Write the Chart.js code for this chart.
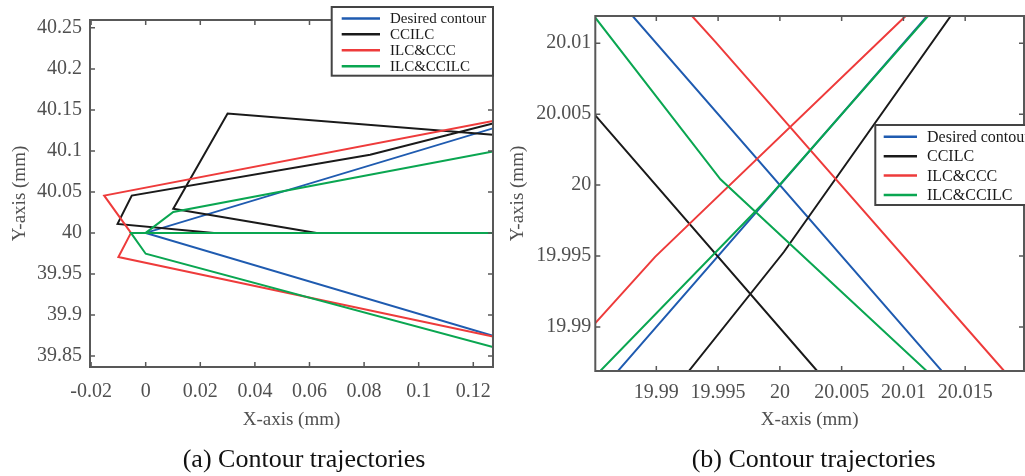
<!DOCTYPE html>
<html>
<head>
<meta charset="utf-8">
<script src="https://cdn.jsdelivr.net/npm/chart.js@4.4.1/dist/chart.umd.min.js"></script>
<style>
  body { margin: 0; background: #fff; }
  canvas { position: absolute; top: 0; }
  #chartA { left: 0; }
  #chartB { left: 505px; }
</style>
</head>
<body>
<canvas id="chartA" width="512" height="476"></canvas>
<canvas id="chartB" width="520" height="476"></canvas>
<script>
/* Data */

const seriesNames = ['Desired contour', 'CCILC', 'ILC&CCC', 'ILC&CCILC']
const seriesColors = ['#1f5bb0', '#1a1a1a', '#ee3b3b', '#0aa651']

// (a) whole corner, [x, y] in mm, null = break in the path
const desiredA = [[0.1272, 40.1275], [0, 40], [0.1272, 39.8746]]
const ccilcA = [[0.1272, 40.1334], [0.0822, 40.0953], [-0.0051, 40.0455], [-0.0103, 40.011], [0.025, 40], [0.1272, 40], null,
                [0.1272, 40.1196], [0.030, 40.1455], [0.0101, 40.0295], [0.0626, 40]]
const ilcCccA = [[0.1272, 40.1365], [-0.0152, 40.0455], [-0.0054, 40], [-0.0100, 39.9706], [0.1272, 39.8738]]
const ilcCcilcA = [[0.1272, 40.0993], [0.0101, 40.0255], [0, 40], [-0.0054, 40], [0, 39.9746], [0.1272, 39.8608], null,
                   [0, 40], [0.1272, 40]]

const xTicksA = [-0.02, 0, 0.02, 0.04, 0.06, 0.08, 0.1, 0.12]
const xLabelsA = ['-0.02', '0', '0.02', '0.04', '0.06', '0.08', '0.1', '0.12']
const yTicksA = [39.85, 39.9, 39.95, 40, 40.05, 40.1, 40.15, 40.2, 40.25]
const yLabelsA = ['39.85', '39.9', '39.95', '40', '40.05', '40.1', '40.15', '40.2', '40.25']

// (b) zoom around the crossing
const desiredB = [[19.9881, 20.0119], [20.0131, 19.9869], null, [19.9869, 19.9869], [20.0119, 20.0119]]
const ccilcB = [[19.98506, 20.00492], [20.00302, 19.98689], null,
                [19.99263, 19.98689], [20.00032, 19.99528], [20.01383, 20.01192]]
const ilcCccB = [[19.99289, 20.01192], [19.99478, 20.0101], [20.01815, 19.98689], null,
                 [19.98506, 19.99026], [19.9899, 19.99494], [20.01018, 20.01192]]
const ilcCcilcB = [[19.98506, 20.0118], [19.99519, 20.00041], [20.01188, 19.98689], null,
                   [19.98546, 19.98689], [19.99889, 19.99893], [20.01199, 20.01192]]

const xTicksB = [19.99, 19.995, 20, 20.005, 20.01, 20.015]
const xLabelsB = ['19.99', '19.995', '20', '20.005', '20.01', '20.015']
const yTicksB = [19.99, 19.995, 20, 20.005, 20.01]
const yLabelsB = ['19.99', '19.995', '20', '20.005', '20.01']

/* Plugins */

const FONT = "'Liberation Serif', 'Times New Roman', serif"

const frame = {
    id: 'frame',
    afterDatasetsDraw(chart) {
        const {ctx, chartArea: a, scales: {x, y}} = chart
        ctx.save()
        ctx.strokeStyle = '#585858'
        ctx.lineWidth = 1.5
        ctx.beginPath()
        x.ticks.forEach((t) => {
            const px = x.getPixelForValue(t.value)
            ctx.moveTo(px, a.bottom); ctx.lineTo(px, a.bottom - 5)
            ctx.moveTo(px, a.top); ctx.lineTo(px, a.top + 5)
        })
        y.ticks.forEach((t) => {
            const py = y.getPixelForValue(t.value)
            ctx.moveTo(a.left, py); ctx.lineTo(a.left + 5, py)
            ctx.moveTo(a.right, py); ctx.lineTo(a.right - 5, py)
        })
        ctx.stroke()
        ctx.lineWidth = 2
        ctx.strokeRect(a.left, a.top, a.width, a.height)
        ctx.restore()
    }
}

const boxLegend = {
    id: 'boxLegend',
    afterDraw(chart, args, o) {
        const {ctx} = chart
        ctx.save()
        ctx.fillStyle = '#fff'
        ctx.fillRect(o.left, o.top, o.right - o.left, o.bottom - o.top)
        ctx.strokeStyle = '#444'
        ctx.lineWidth = 2
        ctx.strokeRect(o.left, o.top, o.right - o.left, o.bottom - o.top)
        ctx.font = o.size + 'px ' + FONT
        ctx.textBaseline = 'middle'
        ctx.fillStyle = '#1a1a1a'
        chart.data.datasets.forEach((ds, i) => {
            const yy = o.rows[i]
            ctx.strokeStyle = ds.borderColor
            ctx.lineWidth = 2.5
            ctx.beginPath()
            ctx.moveTo(o.x0, yy); ctx.lineTo(o.x1, yy)
            ctx.stroke()
            ctx.fillText(ds.label, o.tx, yy + 1)
        })
        ctx.restore()
    }
}

const caption = {
    id: 'caption',
    afterDraw(chart, args, o) {
        const {ctx} = chart
        ctx.save()
        ctx.font = '26px ' + FONT
        ctx.fillStyle = '#111'
        ctx.textAlign = 'center'
        ctx.textBaseline = 'middle'
        ctx.fillText(o.text, o.x, o.y)
        ctx.restore()
    }
}

/* Charts */

const toPoints = (arr) => arr.map((p) => p ? {x: p[0], y: p[1]} : {x: null, y: null})

function axis(min, max, ticks, labels, opts) {
    return {
        type: 'linear',
        min, max,
        afterBuildTicks: (s) => { s.ticks = ticks.map((v) => ({value: v})) },
        afterFit: opts.fit,
        grid: {display: false, drawTicks: false},
        border: {display: false},
        ticks: {
            autoSkip: false, maxRotation: 0, padding: opts.pad,
            color: '#505050', font: {family: FONT, size: 20},
            callback: (v, i) => labels[i]
        },
        title: {
            display: true, text: opts.title, color: '#505050',
            font: {family: FONT, size: 19, lineHeight: 1},
            padding: opts.titlePad
        }
    }
}

function makeChart(id, c) {
    return new Chart(document.getElementById(id), {
        type: 'scatter',
        data: {
            datasets: c.series.map((pts, i) => ({
                label: seriesNames[i],
                data: toPoints(pts),
                borderColor: seriesColors[i],
                backgroundColor: seriesColors[i],
                showLine: true,
                borderWidth: 2,
                pointRadius: 0,
                pointHoverRadius: 0,
                order: 4 - i,
                clip: 0
            }))
        },
        options: {
            responsive: false,
            animation: false,
            events: [],
            layout: {padding: c.padding},
            plugins: {
                legend: {display: false},
                tooltip: {enabled: false},
                boxLegend: c.legend,
                caption: c.caption
            },
            scales: {
                x: axis(c.x[0], c.x[1], c.xTicks, c.xLabels, {
                    fit: (s) => { s.height = c.xHeight },
                    pad: c.xPad, title: 'X-axis (mm)', titlePad: {top: 0, bottom: 46.5}
                }),
                y: axis(c.y[0], c.y[1], c.yTicks, c.yLabels, {
                    fit: (s) => { s.width = c.yWidth },
                    pad: c.yPad, title: 'Y-axis (mm)', titlePad: {top: c.yTitlePad, bottom: 0}
                })
            }
        },
        plugins: [frame, boxLegend, caption]
    })
}

makeChart('chartA', {
    series: [desiredA, ccilcA, ilcCccA, ilcCcilcA],
    x: [-0.0204, 0.12722], y: [39.8365, 40.2596],
    xTicks: xTicksA, xLabels: xLabelsA, yTicks: yTicksA, yLabels: yLabelsA,
    padding: {left: 0, top: 7, right: 19, bottom: 0},
    xHeight: 109, yWidth: 90, xPad: 13, yPad: 8, yTitlePad: 10.5,
    legend: {left: 331.7, top: 7, right: 493, bottom: 75.7, x0: 341.7, x1: 380, tx: 390,
             size: 15, rows: [18.5, 34.3, 50.3, 66.3]},
    caption: {text: '(a) Contour trajectories', x: 304, y: 460}
})

makeChart('chartB', {
    series: [desiredB, ccilcB, ilcCccB, ilcCcilcB],
    x: [19.98506, 20.01976], y: [19.98689, 20.01192],
    xTicks: xTicksB, xLabels: xLabelsB, yTicks: yTicksB, yLabels: yLabelsB,
    padding: {left: 0, top: 5, right: 1, bottom: 0},
    xHeight: 105, yWidth: 90.3, xPad: 9.3, yPad: 4, yTitlePad: 3.8,
    legend: {left: 370.3, top: 125, right: 540, bottom: 205, x0: 378.7, x1: 412, tx: 422,
             size: 16, rows: [136.7, 156.2, 175.6, 195]},
    caption: {text: '(b) Contour trajectories', x: 308.7, y: 460}
})
</script>
</body>
</html>
